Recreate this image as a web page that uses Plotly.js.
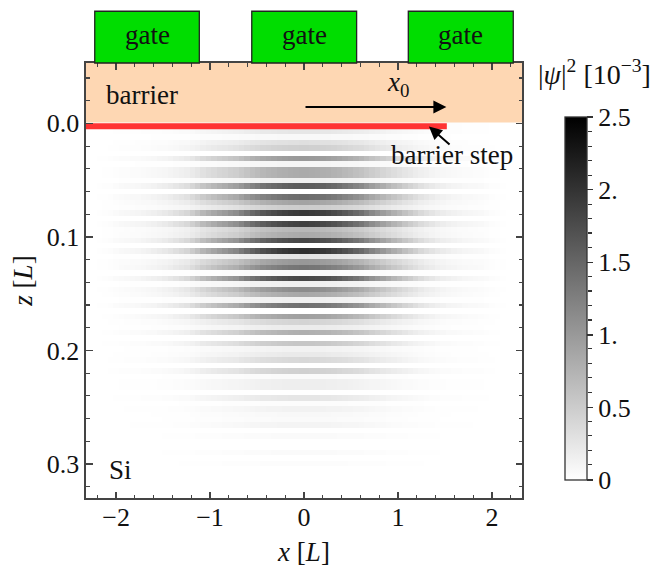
<!DOCTYPE html>
<html><head><meta charset="utf-8">
<script src="https://cdn.plot.ly/plotly-3.0.1.min.js"></script>
<style>html,body{margin:0;padding:0;background:#fff}</style></head>
<body><div id="chart" style="width:658px;height:567px"></div>
<script>
// Peak |psi|^2 (10^-3) of each horizontal band, top to bottom
const bandPeaks = [0.12,0.25,0.25,0.07,0.31,0.47,0,1.0,0.10,0.83,0.83,0.15,1.6,0,1.44,0.9,0.5,1.95,0.03,1.87,0.7,0.83,1.8,0,2.03,0.27,1.01,1.36,0.05,1.8,0.15,1.13,0.85,0.15,1.4,0,0.93,0.42,0.19,0.78,0,0.56,0.13,0.21,0.38,0,0.46,0.05,0.17,0.17,0,0.25,0.03,0.13,0.07,0.05,0.11,0,0.05,0,0,0.05,0,0.03];
// Relative lateral envelope read across the bands, left to right
const lateral = [0,0,0.005,0.01,0.015,0.025,0.035,0.04,0.045,0.05,0.06,0.07,0.08,0.095,0.11,0.13,0.155,0.18,0.205,0.25,0.30,0.36,0.40,0.44,0.48,0.51,0.55,0.58,0.64,0.70,0.76,0.80,0.85,0.88,0.91,0.94,0.96,0.98,0.99,1.0,1.0,0.99,0.98,0.96,0.94,0.91,0.88,0.84,0.80,0.76,0.72,0.66,0.60,0.55,0.50,0.45,0.40,0.36,0.31,0.27,0.23,0.19,0.16,0.135,0.11,0.095,0.08,0.07,0.06,0.05,0.045,0.04,0.035,0.025,0.015,0.01,0.005,0,0,0];
const gateEdges = [[-2.227,-1.114],[-0.556,0.56],[1.11,2.227]];
const gateLabels = ['gate','gate','gate'];
const barbTicks = [0,0.5,1,1.5,2,2.5];
const barbLabels = ['0','0.5','1.','1.5','2.','2.5'];
const xRange = [-2.32,2.32], zRange = [0.33,-0.0532];

const serif = '"Liberation Serif", "Times New Roman", serif';
const ink = '#444';
const fs = 26, fa = 27;
const W = 554, plotW = 436, H = 435.5;
const zGrid = bandPeaks.map(p => lateral.map(c => p*c));

const traces = [
 {type:'heatmap', z:zGrid, x0:-2.291, dx:0.058, y0:-0.0024, dy:0.00479, zmin:0, zmax:2.5, zsmooth:false,
  colorscale:[[0,'#ffffff'],[1,'#000000']], hoverinfo:'skip',
  colorbar:{lenmode:'pixels', len:362.6, thicknessmode:'pixels', thickness:22.3, x:(565-86)/W, xanchor:'left', xpad:0,
    yanchor:'top', y:1-(116.7-62.5)/H, ypad:0, outlinecolor:'#333', outlinewidth:1.3, ticks:'outside', ticklen:6, tickwidth:1.3, tickcolor:'#333',
    tickmode:'array', tickvals:barbTicks, ticktext:barbLabels, tickfont:{family:serif,size:fs,color:'#111'}}},
 {type:'scatter', x:[xRange[0],xRange[1],xRange[1],xRange[0],xRange[0]], y:[zRange[1],zRange[1],-0.0008,-0.0008,zRange[1]],
  mode:'lines', line:{width:0}, fill:'toself', fillcolor:'rgba(254,213,176,0.96)', hoverinfo:'skip', showlegend:false},
 {type:'scatter', x:[xRange[0],1.52,1.52,xRange[0],xRange[0]], y:[-0.0002,-0.0002,0.0052,0.0052,-0.0002],
  mode:'lines', line:{width:0}, fill:'toself', fillcolor:'#ff3333', hoverinfo:'skip', showlegend:false},
 {type:'scatter', x:[0], y:[1], xaxis:'x2', yaxis:'y2', mode:'none', hoverinfo:'skip', showlegend:false}
];

const ax = {showgrid:false, zeroline:false, showline:true, linecolor:ink, linewidth:1.6, mirror:'allticks',
  ticks:'inside', ticklen:6.5, tickwidth:1.2, tickcolor:ink, tickfont:{family:serif,size:fs,color:'#111'}};
const txt = (text,x,y) => ({text,x,y,xref:'x',yref:'y',xanchor:'center',yanchor:'middle',showarrow:false,font:{family:serif,size:fa,color:'#111'}});

const layout = {
 width:658, height:567, margin:{l:86,r:18,t:62.5,b:69}, paper_bgcolor:'#fff', plot_bgcolor:'#fff', showlegend:false,
 xaxis:Object.assign({},ax,{domain:[0,plotW/W], range:xRange, dtick:1, tick0:0, ticklabelstandoff:-5, minor:{dtick:0.2,tick0:0,ticks:'inside',ticklen:3.5,tickwidth:1.1,tickcolor:ink},
   title:{text:'<i>x</i> [<i>L</i>]', font:{family:serif,size:fa,color:'#111'}, standoff:15}}),
 yaxis:Object.assign({},ax,{range:zRange, dtick:0.1, tick0:0, tickformat:'.1f', minor:{dtick:0.02,tick0:0,ticks:'inside',ticklen:3.5,tickwidth:1.1,tickcolor:ink},
   title:{text:'<i>z</i> [<i>L</i>]', font:{family:serif,size:fa,color:'#111'}, standoff:6}}),
 xaxis2:{domain:[(565-86)/W,(587.3-86)/W], visible:false, range:[0,1], anchor:'y2'},
 yaxis2:{domain:[(498-479.3)/H,(498-116.7)/H], range:[0,2.5], anchor:'x2', side:'right',
   showgrid:false, zeroline:false, showline:false, ticks:'', showticklabels:false,
   minor:{dtick:0.1,tick0:0,ticks:'outside',ticklen:3.5,tickwidth:1.1,tickcolor:'#333'}},
 shapes:gateEdges.map(g => ({type:'rect', xref:'x', yref:'paper', x0:g[0], x1:g[1], y0:1, y1:1+(62.5-10.7)/H,
   fillcolor:'#00dd00', line:{color:'#222',width:1.3}})),
 annotations:[
  ...gateEdges.map((g,i)=>({text:gateLabels[i], xref:'x', yref:'paper', x:(g[0]+g[1])/2, y:1+(62.5-34.5)/H, xanchor:'center', yanchor:'middle', showarrow:false, font:{family:serif,size:fa,color:'#111'}})),
  txt('barrier',-1.72,-0.0246),
  txt('<i>x</i><sub>0</sub>',1.0,-0.035),
  txt('barrier step',1.57,0.028),
  txt('Si',-1.95,0.305),
  {text:'|<i>ψ</i>|<sup>2</sup> [10<sup>−3</sup>]', xref:'paper', yref:'paper', x:(594-86)/W, y:1-(72-62.5)/H, xanchor:'center', yanchor:'middle', showarrow:false, font:{family:serif,size:28,color:'#111'}},
  {text:'', x:1.515, y:-0.0145, ax:0, ay:-0.0145, xref:'x', yref:'y', axref:'x', ayref:'y', showarrow:true, arrowhead:2, arrowsize:1.3, arrowwidth:2, arrowcolor:'#000', standoff:0},
  {text:'', x:1.33, y:0.0028, ax:1.565, ay:0.0198, xref:'x', yref:'y', axref:'x', ayref:'y', showarrow:true, arrowhead:2, arrowsize:1.3, arrowwidth:2, arrowcolor:'#000', standoff:0}
 ]
};
Plotly.newPlot('chart',traces,layout,{displayModeBar:false,staticPlot:true});
</script></body></html>
